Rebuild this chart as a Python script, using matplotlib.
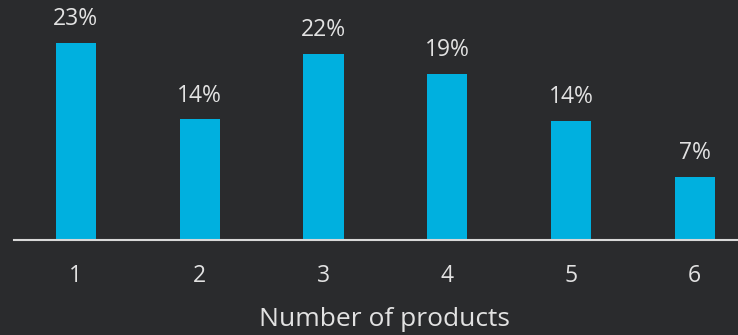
import matplotlib
matplotlib.use("Agg")
import matplotlib.pyplot as plt

plt.rcParams['font.family'] = ['Open Sans', 'DejaVu Sans']

products = [1, 2, 3, 4, 5, 6]
shares = [23.0, 14.1, 21.7, 19.4, 13.9, 7.4]
labels = ['23%', '14%', '22%', '19%', '14%', '7%']

bg = '#2a2b2d'
bar_color = '#00b0df'
text_color = '#e2e2e2'

fig = plt.figure(figsize=(7.38, 3.35), dpi=100, facecolor=bg)
ax = fig.add_axes([0.019, 0.2836, 0.981, 0.7164], facecolor=bg)

bars = ax.bar(products, shares, width=0.325, color=bar_color)
for b, lab in zip(bars, labels):
    ax.text(b.get_x() + b.get_width() / 2, b.get_height() + 1.35, lab,
            ha='center', va='bottom', color=text_color, fontsize=16.5)

ax.set_xlim(0.5, 6.35)
ax.set_ylim(0, 28)

for s in ['top', 'right', 'left']:
    ax.spines[s].set_visible(False)
ax.spines['bottom'].set_color('#d8d8d8')
ax.spines['bottom'].set_linewidth(1.5)

ax.set_yticks([])
ax.set_xticks(products)
ax.set_xticklabels([str(p) for p in products])
ax.tick_params(axis='x', length=0, pad=17, labelsize=16.5, colors=text_color)
ax.set_xlabel('Number of products', color=text_color, fontsize=19, labelpad=14)
ax.xaxis.label.set_x(0.512)

fig.savefig('out.png', dpi=100, facecolor=bg)
